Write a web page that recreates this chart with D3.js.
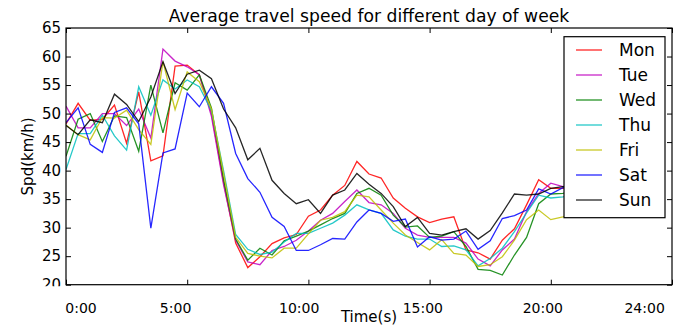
<!DOCTYPE html>
<html>
<head>
<meta charset="utf-8">
<script src="https://d3js.org/d3.v7.min.js"></script>
<style>
  body { margin: 0; background: #fff; }
  svg { display: block; }
</style>
</head>
<body>
<script>
// half hour slots, 48 per day
var slots = d3.range(48)

// average speed (km/h) per slot
var mon = [48.2, 51.8, 48.8, 49.0, 51.5, 44.8, 53.8, 41.7, 42.6, 58.3, 58.5, 56.8, 50.0, 38.0, 27.3, 23.0, 24.9, 27.2, 28.2, 28.8, 32.0, 33.1, 35.7, 37.4, 41.6, 39.4, 38.7, 35.2, 33.4, 31.9, 30.9, 31.5, 31.9, 26.1, 25.6, 24.5, 27.8, 29.8, 34.0, 38.4, 36.9, 36.9, 37.2, 37.5, 37.0, 36.8, 37.4, 38.0]
var tue = [51.3, 47.5, 47.5, 50.0, 50.0, 47.9, 50.8, 45.7, 61.3, 59.2, 58.2, 56.8, 49.5, 37.5, 27.8, 24.0, 23.5, 26.0, 26.7, 27.8, 29.4, 31.3, 32.5, 34.6, 36.6, 34.4, 34.0, 32.5, 29.9, 28.7, 28.3, 28.3, 28.3, 27.3, 24.5, 23.3, 26.1, 28.0, 32.8, 36.0, 37.8, 37.2, 37.0, 37.6, 38.0, 37.4, 37.0, 37.5]
var wed = [42.5, 49.0, 50.0, 45.1, 49.6, 49.3, 43.4, 55.0, 46.6, 55.4, 54.1, 56.8, 51.0, 38.5, 28.0, 24.3, 26.4, 25.2, 27.7, 28.5, 29.4, 30.5, 31.6, 32.5, 36.0, 36.9, 35.7, 32.2, 30.1, 30.3, 28.3, 28.5, 29.3, 26.7, 22.7, 22.5, 21.7, 25.2, 28.3, 34.2, 35.9, 36.0, 36.4, 36.8, 36.2, 36.6, 37.0, 36.5]
var thu = [40.2, 46.5, 46.5, 49.7, 46.1, 43.6, 54.7, 49.7, 55.9, 54.3, 55.9, 54.7, 50.5, 40.0, 28.8, 26.2, 25.3, 25.7, 27.5, 29.0, 29.0, 29.9, 30.8, 32.2, 34.0, 33.1, 32.5, 29.6, 28.5, 28.0, 28.0, 26.7, 26.8, 26.1, 23.3, 24.6, 26.4, 29.3, 32.6, 35.7, 35.2, 35.4, 35.8, 36.0, 35.5, 35.9, 36.2, 35.8]
var fri = [48.0, 46.3, 45.4, 49.3, 49.2, 50.6, 47.2, 44.6, 59.1, 50.7, 57.3, 55.6, 50.8, 39.5, 28.3, 25.5, 25.0, 24.7, 26.4, 26.4, 28.9, 31.3, 31.8, 32.8, 35.7, 35.4, 33.1, 30.8, 28.7, 27.4, 26.1, 27.9, 25.5, 25.2, 23.2, 23.5, 24.9, 27.8, 31.4, 33.1, 31.4, 31.9, 32.6, 33.2, 33.0, 33.5, 34.0, 33.6]
var sat = [48.4, 51.0, 44.6, 43.2, 50.2, 51.0, 48.2, 29.9, 43.1, 43.8, 53.6, 51.2, 54.7, 51.8, 43.0, 38.6, 36.2, 31.8, 30.2, 26.0, 26.0, 27.0, 28.1, 28.0, 31.0, 33.1, 32.5, 31.1, 31.5, 26.6, 28.4, 27.8, 28.0, 29.4, 26.2, 27.7, 31.6, 32.1, 33.1, 36.8, 35.9, 37.0, 37.3, 36.9, 37.5, 37.8, 37.2, 37.6]
var sun = [47.9, 46.3, 48.9, 48.4, 53.4, 51.6, 48.6, 52.9, 59.1, 53.5, 56.9, 57.6, 56.1, 50.8, 47.5, 41.9, 43.9, 38.3, 36.0, 34.2, 34.9, 32.5, 35.7, 36.6, 39.5, 37.6, 36.0, 33.7, 30.2, 31.8, 29.0, 28.7, 29.3, 29.8, 28.0, 29.5, 32.6, 35.9, 35.7, 35.9, 36.9, 37.2, 37.5, 37.0, 37.8, 38.2, 37.6, 38.0]

var days = ["Mon", "Tue", "Wed", "Thu", "Fri", "Sat", "Sun"]
var values = [mon, tue, wed, thu, fri, sat, sun]
var colors = ["#ff0000", "#bf00bf", "#008000", "#00bfbf", "#bfbf00", "#0000ff", "#000000"]

// tick marks and the time labels under the axis
var xTicks = [0, 10, 20, 30, 40, 50]
var xLabels = ["0:00", "5:00", "10:00", "15:00", "20:00", "24:00"]
var xLabelAt = [1.2, 9, 19.2, 29.4, 39.3, 47.7]
var yTicks = [20, 25, 30, 35, 40, 45, 50, 55, 60, 65]

var width = 673, height = 327
var margin = {top: 28, right: 1, bottom: 42.3, left: 66}
var font = "DejaVu Sans, sans-serif"

var svg = d3.select("body").append("svg")
    .attr("width", width)
    .attr("height", height)

var xScale = d3.scaleLinear().domain([0, 50]).range([margin.left, width - margin.right])
var yScale = d3.scaleLinear().domain([20, 65]).range([height - margin.bottom, margin.top])

var x0 = xScale.range()[0], x1 = xScale.range()[1]
var y0 = yScale.range()[1], y1 = yScale.range()[0]

svg.append("clipPath").attr("id", "plot-clip")
  .append("rect")
    .attr("x", x0).attr("y", y0)
    .attr("width", x1 - x0).attr("height", y1 - y0)

// the "20" label is cut off just under the axis in the original
svg.append("clipPath").attr("id", "ylab-clip")
  .append("rect")
    .attr("x", 0).attr("y", 0)
    .attr("width", x0).attr("height", y1 + 1.5)

var line = d3.line()
    .x(function(d, i) { return xScale(slots[i]); })
    .y(function(d) { return yScale(d); })

// one line per day
svg.append("g")
    .attr("clip-path", "url(#plot-clip)")
  .selectAll("path")
  .data(values)
  .enter().append("path")
    .attr("d", line)
    .attr("fill", "none")
    .attr("stroke", function(d, i) { return colors[i]; })
    .attr("stroke-width", 1.3)
    .attr("stroke-opacity", 0.85)
    .attr("stroke-linejoin", "miter")

// ticks point inwards on all four sides
function styleAxis(g) {
  g.select(".domain").remove()
  g.selectAll(".tick line").attr("stroke", "#000").attr("stroke-width", 1)
}

svg.append("g")
    .attr("transform", "translate(0," + y1 + ")")
    .call(d3.axisBottom(xScale).tickValues(xTicks).tickSize(-5).tickFormat(""))
    .call(styleAxis)

svg.append("g")
    .attr("transform", "translate(0," + y0 + ")")
    .call(d3.axisTop(xScale).tickValues(xTicks).tickSize(-5).tickFormat(""))
    .call(styleAxis)

svg.append("g")
    .attr("transform", "translate(" + x1 + ",0)")
    .call(d3.axisRight(yScale).tickValues(yTicks).tickSize(-5).tickFormat(""))
    .call(styleAxis)

svg.append("g")
    .attr("clip-path", "url(#ylab-clip)")
  .append("g")
    .attr("transform", "translate(" + x0 + ",0)")
    .call(d3.axisLeft(yScale).tickValues(yTicks).tickSize(-5).tickPadding(5))
    .call(styleAxis)
    .attr("font-size", 15)
    .attr("font-family", font)

svg.append("g")
    .attr("transform", "translate(" + x0 + ",0)")
    .call(d3.axisLeft(yScale).tickValues(yTicks).tickSize(-5).tickFormat(""))
    .call(styleAxis)

// time labels
svg.append("g")
    .attr("transform", "translate(0," + y1 + ")")
    .call(d3.axisBottom(xScale).tickValues(xLabelAt).tickSize(0).tickPadding(18)
      .tickFormat(function(d, i) { return xLabels[i]; }))
    .call(function(g) { g.select(".domain").remove() })
    .attr("font-size", 14)
    .attr("font-family", font)

// frame
svg.append("rect")
    .attr("x", x0).attr("y", y0)
    .attr("width", x1 - x0).attr("height", y1 - y0)
    .attr("fill", "none")
    .attr("stroke", "#000")
    .attr("stroke-width", 1.2)

// titles
svg.append("text")
    .attr("x", (x0 + x1) / 2)
    .attr("y", 21.7)
    .attr("text-anchor", "middle")
    .attr("font-family", font)
    .attr("font-size", 17.2)
    .text("Average travel speed for different day of week")

svg.append("text")
    .attr("x", (x0 + x1) / 2)
    .attr("y", 322)
    .attr("text-anchor", "middle")
    .attr("font-family", font)
    .attr("font-size", 15)
    .text("Time(s)")

svg.append("text")
    .attr("transform", "translate(33," + (y0 + y1) / 2 + ")rotate(-90)")
    .attr("text-anchor", "middle")
    .attr("font-family", font)
    .attr("font-size", 15)
    .text("Spd(km/h)")

// legend with white box over the lines
var legend = svg.append("g").attr("transform", "translate(564,36.7)")

legend.append("rect")
    .attr("width", 101)
    .attr("height", 181)
    .attr("fill", "#fff")
    .attr("stroke", "#000")
    .attr("stroke-width", 1.2)

var item = legend.selectAll(".item")
  .data(days)
  .enter().append("g")
    .attr("class", "item")
    .attr("transform", function(d, i) { return "translate(0," + (13.3 + i * 25) + ")"; })

item.append("line")
    .attr("x1", 12).attr("x2", 38)
    .attr("stroke", function(d, i) { return colors[i]; })
    .attr("stroke-width", 1.3)
    .attr("stroke-opacity", 0.85)

item.append("text")
    .attr("x", 55)
    .attr("y", 6.3)
    .attr("font-family", font)
    .attr("font-size", 17)
    .text(function(d) { return d; })
</script>
</body>
</html>
